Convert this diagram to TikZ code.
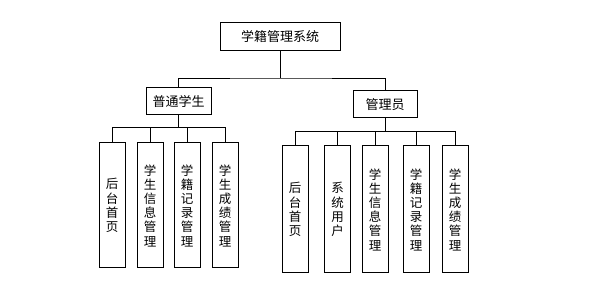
\documentclass[tikz,border=0pt]{standalone}
\usepackage{fontspec}
\newfontfamily\cjk{Noto Sans CJK SC}
\begin{document}
\begin{tikzpicture}[x=1pt,y=-1pt,
  box/.style={draw=black,line width=1pt,inner sep=0pt,font=\cjk\fontsize{13}{14}\selectfont},
  vbox/.style={draw=black,line width=1pt,inner sep=0pt,minimum width=26pt,minimum height=125pt,align=center,font=\cjk\fontsize{12.5}{14.2}\selectfont},
  conn/.style={line width=0.9pt,black}]
\useasboundingbox (0,0) rectangle (606,294);
\node[box,minimum width=120pt,minimum height=28pt] (root) at (280,37) {学籍管理系统};
\node[box,minimum width=65pt,minimum height=27pt] (stu) at (178.5,101.5) {普通学生};
\node[box,minimum width=64pt,minimum height=27pt] (adm) at (385,104.5) {管理员};
% student children
\node[vbox] (s1) at (112,205.5) {后\\台\\首\\页};
\node[vbox] (s2) at (150,205.5) {学\\生\\信\\息\\管\\理};
\node[vbox] (s3) at (187,205.5) {学\\籍\\记\\录\\管\\理};
\node[vbox] (s4) at (225,205.5) {学\\生\\成\\绩\\管\\理};
% admin children
\node[vbox,minimum height=127pt] (a1) at (295,209.5) {后\\台\\首\\页};
\node[vbox,minimum height=127pt] (a2) at (337.5,209.5) {系\\统\\用\\户};
\node[vbox,minimum height=127pt] (a3) at (375,209.5) {学\\生\\信\\息\\管\\理};
\node[vbox,minimum height=127pt] (a4) at (416,209.5) {学\\籍\\记\\录\\管\\理};
\node[vbox,minimum height=127pt] (a5) at (455,209.5) {学\\生\\成\\绩\\管\\理};
% connectors
\coordinate (rj) at (280,78);
\draw[conn] (root.south) -- (rj);
\draw[conn] (stu.north) |- (rj) -| (adm.north);
\coordinate (sj) at (178.5,127);
\draw[conn] (stu.south) -- (sj);
\foreach \n in {s1,s2,s3,s4} \draw[conn] (sj) -| (\n.north);
\coordinate (aj) at (385,131);
\draw[conn] (adm.south) -- (aj);
\foreach \n in {a1,a2,a3,a4,a5} \draw[conn] (aj) -| (\n.north);
\end{tikzpicture}
\end{document}
